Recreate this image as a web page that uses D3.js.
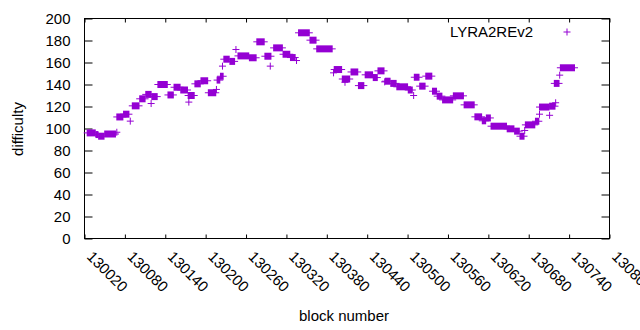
<!DOCTYPE html>
<html>
<head>
<meta charset="utf-8">
<script src="https://cdn.jsdelivr.net/npm/d3@7"></script>
<style>
  html, body { margin: 0; padding: 0; background: #fff; }
  svg { display: block; font-family: "Liberation Sans", Arial, sans-serif; }
</style>
</head>
<body>
<svg id="chart" width="640" height="330"></svg>
<script>
// ---- data (runs of consecutive blocks sharing one difficulty) ----
const seriesName = "LYRA2REv2";
const runStart = [130024,130037,130041,130050,130068,130068,130078,130088,130091,130102,
                  130111,130119,130120,130129,130144,130153,130163,130175,130174,130184,
                  130193,130204,130216,130217,130222,130225,130227,130236,130245,130248,
                  130265,130276,130288,130296,130301,130315,130326,130335,130338,130355,
                  130365,130390,130391,130403,130407,130416,130427,130437,130449,130456,
                  130466,130467,130475,130484,130501,130509,130510,130518,130527,130537,
                  130544,130552,130568,130584,130600,130611,130617,130624,130648,130659,
                  130667,130674,130675,130690,130696,130696,130711,130711,130720,130718,
                  130726,130727];
const runEnd   = [130036,130040,130049,130066,130068,130077,130086,130088,130101,130110,
                  130119,130119,130128,130143,130152,130162,130173,130175,130183,130192,
                  130203,130215,130216,130221,130226,130225,130235,130243,130245,130264,
                  130275,130287,130297,130296,130314,130325,130333,130335,130354,130364,
                  130388,130390,130402,130414,130407,130426,130435,130448,130455,130465,
                  130466,130474,130483,130500,130507,130509,130517,130526,130536,130543,
                  130551,130567,130583,130599,130610,130616,130623,130647,130658,130666,
                  130673,130674,130689,130695,130696,130710,130719,130711,130720,130725,
                  130726,130748];
const runDifficulty = [96,94.5,93,95,96.6,110.5,113,106.7,120.6,127,
                  131,122.7,129,140,130.5,137.5,135,124,130,140.6,
                  143.4,132.5,135.5,144,147.5,156.7,163,161,171.8,166,
                  164.3,178.8,165.7,156.7,173.3,167.5,164.5,161.8,187,180.3,
                  172.4,150.6,153.6,145,142,151.4,139,148.8,146.3,152.4,
                  142.4,143,141,137.9,135,130,146.6,138.5,147.6,133.9,
                  129.4,126,129.7,121.5,110.6,107,109.6,102.1,99.7,97.6,
                  93,98.2,103.3,106.6,113,119.5,120.3,112,123.4,141,
                  148.5,155.2];
const xTicks = [130020,130080,130140,130200,130260,130320,130380,130440,130500,130560,130620,130680,130740,130800];
const yTicks = [0,20,40,60,80,100,120,140,160,180,200];
const xDomain = [130020, 130800];
const yDomain = [0, 200];

// ---- drawing ----
const color = "#9400D3";
const svg = d3.select("#chart");
const x = d3.scaleLinear().domain(xDomain).range([84.5, 609.5]);
const y = d3.scaleLinear().domain(yDomain).range([238.5, 18.5]);
const fs = 15;
const arm = 3.5;

// y axis (left) with inward ticks
const yAxisL = svg.append("g").attr("transform", "translate(84.5,0)")
  .call(d3.axisLeft(y).tickValues(yTicks).tickSize(-8).tickPadding(14).tickFormat(d3.format("d")));
yAxisL.select(".domain").remove();
yAxisL.selectAll("line").attr("stroke", "#000");
yAxisL.selectAll("text").attr("font-size", fs).attr("fill", "#000").attr("font-family", null);

// y axis mirror (right)
const yAxisR = svg.append("g").attr("transform", "translate(609.5,0)")
  .call(d3.axisRight(y).tickValues(yTicks).tickSize(-8).tickFormat(""));
yAxisR.select(".domain").remove();
yAxisR.selectAll("line").attr("stroke", "#000");

// x axis (bottom) with rotated labels
const xAxisB = svg.append("g").attr("transform", "translate(0,238.5)")
  .call(d3.axisBottom(x).tickValues(xTicks).tickSize(-4).tickFormat(d3.format("d")));
xAxisB.select(".domain").remove();
xAxisB.selectAll("line").attr("stroke", "#000");
xAxisB.selectAll("text")
  .attr("font-size", fs).attr("fill", "#000").attr("font-family", null)
  .attr("x", 0).attr("y", 0).attr("dy", null)
  .attr("text-anchor", "start")
  .attr("transform", "translate(1,19) rotate(45)");

// x axis mirror (top)
const xAxisT = svg.append("g").attr("transform", "translate(0,18.5)")
  .call(d3.axisTop(x).tickValues(xTicks).tickSize(-4).tickFormat(""));
xAxisT.select(".domain").remove();
xAxisT.selectAll("line").attr("stroke", "#000");

// frame
svg.append("rect")
  .attr("x", x.range()[0]).attr("y", y.range()[1])
  .attr("width", x.range()[1] - x.range()[0])
  .attr("height", y.range()[0] - y.range()[1])
  .attr("fill", "none").attr("stroke", "#000").attr("stroke-width", 1);

// data: each run drawn as the union of its "+" markers
const runs = runStart.map((s, i) => ({ s, e: runEnd[i], d: runDifficulty[i] }));
const g = svg.append("g");
runs.forEach(r => {
  const x0 = x(r.s), x1 = x(r.e), yy = y(r.d);
  g.append("rect")
    .attr("x", x0 - 0.5).attr("y", yy - arm)
    .attr("width", (x1 - x0) + 1).attr("height", 2 * arm)
    .attr("fill", color);
  g.append("line")
    .attr("x1", x0 - arm).attr("x2", x1 + arm)
    .attr("y1", yy).attr("y2", yy)
    .attr("stroke", color).attr("stroke-width", 1);
});

// axis titles
svg.append("text").attr("x", 344).attr("y", 321).attr("text-anchor", "middle")
  .attr("font-size", fs).text("block number");
svg.append("text").attr("transform", "translate(23,129) rotate(-90)")
  .attr("text-anchor", "middle").attr("font-size", fs).text("difficulty");

// legend
svg.append("text").attr("x", 533).attr("y", 37).attr("text-anchor", "end")
  .attr("font-size", fs).text(seriesName);
const lg = svg.append("g").attr("transform", "translate(567,32)");
lg.append("line").attr("x1", -arm).attr("x2", arm).attr("y1", 0).attr("y2", 0).attr("stroke", color);
lg.append("line").attr("x1", 0).attr("x2", 0).attr("y1", -arm).attr("y2", arm).attr("stroke", color);
</script>
</body>
</html>
